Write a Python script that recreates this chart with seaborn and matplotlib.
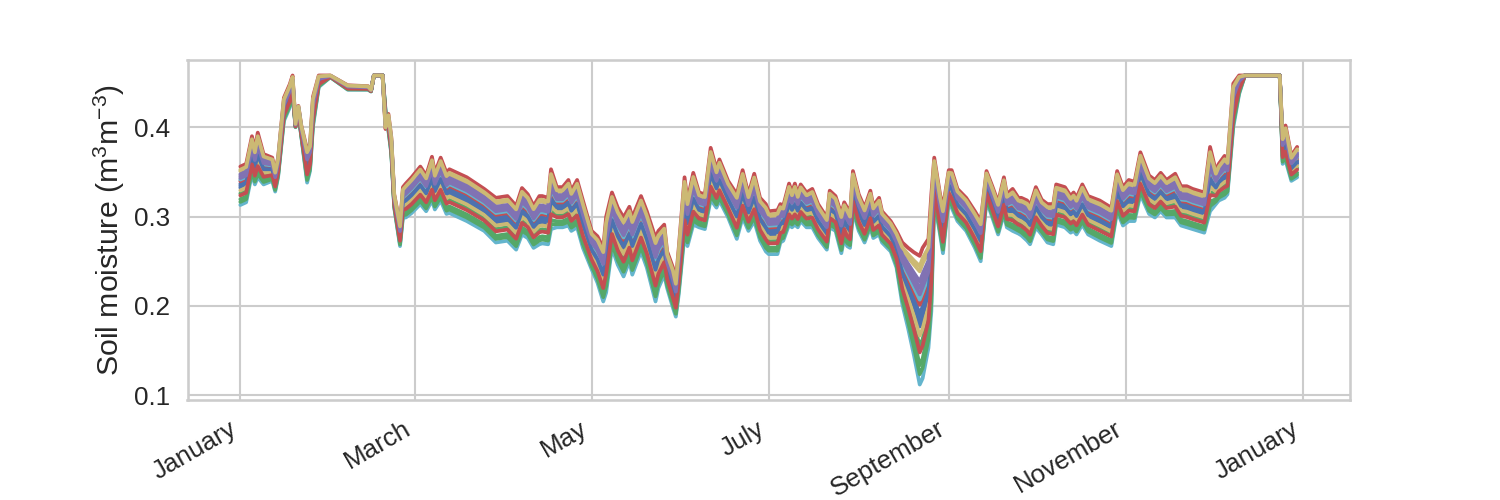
import numpy as np
import pandas as pd
import matplotlib
matplotlib.use("Agg")
import matplotlib.pyplot as plt
import matplotlib.dates as mdates
import seaborn as sns

# ---------------- data ----------------
year_start = "2016-01-01"
# day offsets from 1 January
day_offset = [0, 2, 4, 5, 6, 8, 11, 12, 13, 15, 17, 18, 19, 20, 21, 23, 24, 25, 27,
              31, 37, 44, 45, 46, 49, 50, 51, 52, 53, 55, 56, 57, 59, 62, 64, 66, 67,
              69, 71, 72, 78, 84, 88, 92, 95, 97, 99, 101, 103, 104, 106, 107, 109,
              111, 113, 114, 116, 118, 121, 123, 125, 126, 128, 130, 132, 134, 135,
              138, 140, 143, 144, 146, 147, 149, 150, 151, 153, 154, 156, 158, 160,
              162, 164, 165, 168, 171, 173, 175, 177, 179, 181, 182, 185, 186, 187,
              189, 190, 191, 192, 193, 195, 197, 199, 202, 203, 205, 207, 208, 209,
              210, 211, 213, 215, 217, 218, 220, 221, 224, 226, 228, 230, 232, 234,
              235, 237, 238, 239, 241, 242, 244, 245, 247, 250, 253, 255, 257, 259,
              261, 263, 264, 266, 268, 269, 271, 272, 274, 276, 278, 280, 281, 284,
              286, 287, 288, 290, 292, 296, 300, 302, 304, 306, 308, 310, 313, 315,
              317, 319, 322, 324, 326, 328, 332, 334, 336, 337, 339, 340, 342, 344,
              346, 358, 359, 360, 362, 364]
# upper edge of the bundle of curves
upper = [0.356, 0.359, 0.390, 0.375, 0.394, 0.370, 0.366, 0.351, 0.366, 0.433, 0.448,
         0.458, 0.404, 0.424, 0.402, 0.375, 0.381, 0.434, 0.458,
         0.458, 0.447, 0.446, 0.442, 0.458, 0.458, 0.398, 0.415, 0.389, 0.325, 0.291,
         0.333, 0.337, 0.344, 0.356, 0.346, 0.367, 0.349,
         0.366, 0.349, 0.353, 0.344, 0.331, 0.321, 0.323, 0.312, 0.332, 0.325, 0.312,
         0.323, 0.323, 0.321, 0.353, 0.333,
         0.333, 0.341, 0.329, 0.341, 0.318, 0.284, 0.278, 0.265, 0.300, 0.327, 0.310,
         0.299, 0.311, 0.299,
         0.323, 0.306, 0.276, 0.284, 0.291, 0.261, 0.243, 0.228, 0.265, 0.344, 0.318,
         0.349, 0.327, 0.325,
         0.377, 0.353, 0.364, 0.340, 0.325, 0.352, 0.325, 0.348, 0.321, 0.314, 0.306,
         0.307, 0.314, 0.312,
         0.337, 0.327, 0.337, 0.325, 0.336, 0.327, 0.331, 0.314, 0.299, 0.329, 0.323,
         0.303, 0.316, 0.310,
         0.303, 0.351, 0.325, 0.310, 0.329, 0.312, 0.321, 0.306, 0.295, 0.284, 0.271,
         0.265, 0.260, 0.256,
         0.265, 0.275, 0.325, 0.366, 0.325, 0.310, 0.352, 0.352, 0.331, 0.321, 0.306,
         0.295, 0.351, 0.334,
         0.316, 0.344, 0.325, 0.331, 0.321, 0.321, 0.318, 0.312, 0.333, 0.319, 0.314,
         0.314, 0.336, 0.333,
         0.323, 0.327, 0.321, 0.336, 0.323, 0.318, 0.310, 0.351, 0.333, 0.341, 0.339,
         0.372, 0.346, 0.341,
         0.349, 0.341, 0.348, 0.334, 0.334, 0.331, 0.327, 0.378, 0.351, 0.359, 0.368,
         0.363, 0.449, 0.458,
         0.458, 0.458, 0.389, 0.402, 0.368, 0.378]
# lower edge of the bundle of curves
lower = [0.313, 0.316, 0.348, 0.336, 0.344, 0.336, 0.340, 0.328, 0.344, 0.407, 0.422,
         0.437, 0.400, 0.415, 0.389, 0.338, 0.351, 0.400, 0.445,
         0.456, 0.442, 0.442, 0.440, 0.458, 0.458, 0.420, 0.396, 0.370, 0.310, 0.267,
         0.299, 0.299, 0.304, 0.314, 0.306, 0.318, 0.308,
         0.318, 0.303, 0.304, 0.295, 0.284, 0.271, 0.273, 0.263, 0.280, 0.276, 0.265,
         0.269, 0.270, 0.269, 0.286, 0.288,
         0.288, 0.290, 0.284, 0.288, 0.265, 0.241, 0.226, 0.205, 0.215, 0.265, 0.246,
         0.233, 0.250, 0.235,
         0.261, 0.243, 0.205, 0.220, 0.235, 0.220, 0.198, 0.188, 0.213, 0.280, 0.267,
         0.291, 0.288, 0.286,
         0.319, 0.310, 0.318, 0.299, 0.275, 0.299, 0.284, 0.295, 0.273, 0.261, 0.258,
         0.258, 0.271, 0.273,
         0.291, 0.288, 0.291, 0.288, 0.295, 0.288, 0.288, 0.276, 0.263, 0.288, 0.284,
         0.259, 0.276, 0.267,
         0.265, 0.306, 0.284, 0.271, 0.288, 0.276, 0.280, 0.271, 0.261, 0.243, 0.202,
         0.175, 0.145, 0.112,
         0.119, 0.153, 0.194, 0.318, 0.280, 0.259, 0.318, 0.310, 0.295, 0.284, 0.265,
         0.250, 0.318, 0.299,
         0.280, 0.303, 0.288, 0.284, 0.281, 0.279, 0.273, 0.269, 0.288, 0.280, 0.271,
         0.269, 0.291, 0.288,
         0.282, 0.284, 0.280, 0.291, 0.280, 0.273, 0.267, 0.306, 0.290, 0.295, 0.295,
         0.325, 0.303, 0.299,
         0.306, 0.299, 0.299, 0.290, 0.288, 0.286, 0.282, 0.306, 0.314, 0.318, 0.321,
         0.325, 0.400, 0.437,
         0.458, 0.458, 0.359, 0.363, 0.340, 0.344]
# relative position of each site's curve within the bundle (0 = bottom, 1 = top)
site_position = [0.55, 0.15, 1.00, 0.75, 0.88, 0.00, 0.45, 0.30, 0.62, 0.80, 0.38,
                 0.66, 0.50, 0.08, 0.25, 0.70, 0.92]
site_names = [f"site {i + 1}" for i in range(len(site_position))]

ylabel = "Soil moisture (m$^3$m$^{-3}$)"

# ---------------- build long table ----------------
dates = pd.Timestamp(year_start) + pd.to_timedelta(day_offset, unit="D")
up = np.array(upper)
lo = np.array(lower)
frames = []
for name, pos in zip(site_names, site_position):
    frames.append(pd.DataFrame({"date": dates, "sm": lo + pos * (up - lo), "site": name}))
df = pd.concat(frames, ignore_index=True)

# ---------------- plot ----------------
sns.set_theme(context="notebook", style="whitegrid")
plt.rcParams["font.family"] = ["Liberation Sans", "DejaVu Sans"]
plt.rcParams["mathtext.default"] = "regular"
plt.rcParams["xtick.labelsize"] = 12.5
plt.rcParams["ytick.labelsize"] = 12.5
plt.rcParams["axes.labelsize"] = 14.5

fig, ax = plt.subplots(figsize=(10, 10 / 3), dpi=150)
deep6 = sns.color_palette("deep6")
palette = [deep6[i % 6] for i in range(len(site_names))]
sns.lineplot(data=df, x="date", y="sm", hue="site", hue_order=site_names,
             palette=palette, legend=False, linewidth=1.8, ax=ax)

ax.xaxis.set_major_locator(mdates.MonthLocator(bymonth=[1, 3, 5, 7, 9, 11]))
ax.xaxis.set_major_formatter(mdates.DateFormatter("%B"))
ax.set_xlabel("")
ax.set_ylabel(ylabel, labelpad=3)
ax.set_yticks([0.1, 0.2, 0.3, 0.4])
ax.tick_params(axis="y", pad=2.5)
ax.tick_params(axis="x", pad=2.0)
fig.autofmt_xdate()

fig.savefig("out.png", dpi=150)
